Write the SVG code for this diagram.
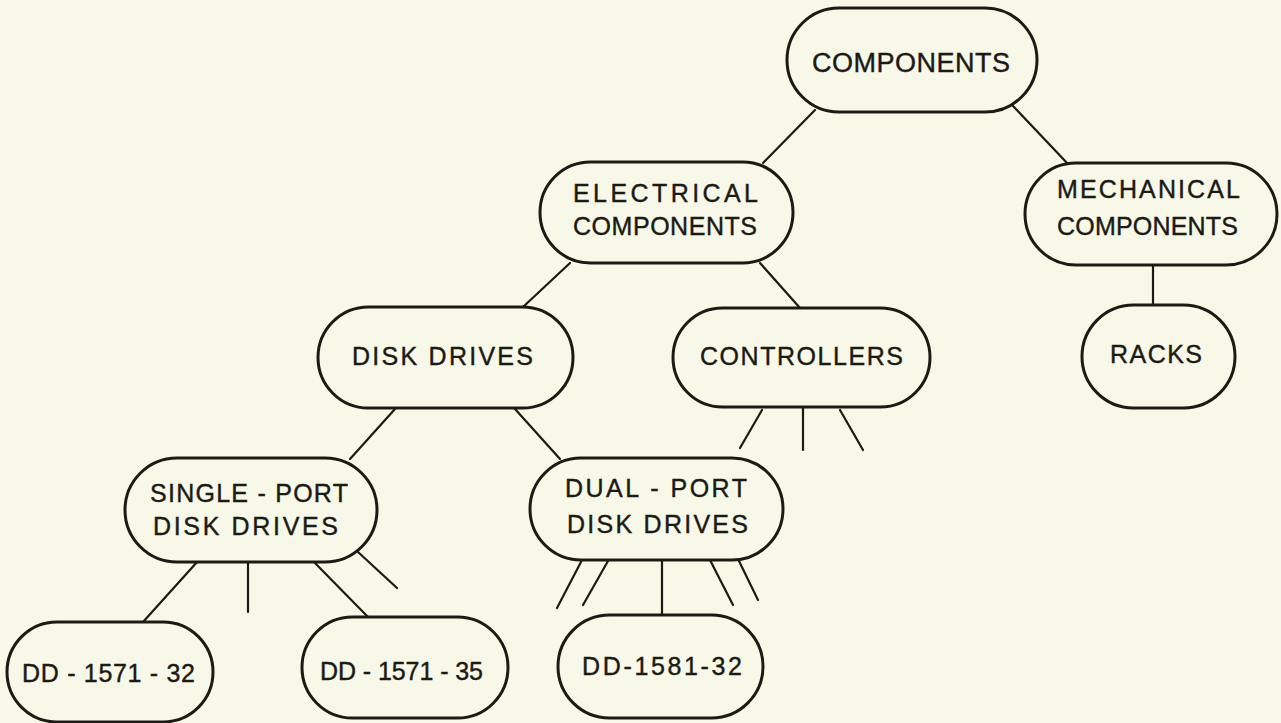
<svg xmlns="http://www.w3.org/2000/svg" width="1281" height="723" viewBox="0 0 1281 723">
<style>
.bg{fill:#f8f8e9}
.node rect{fill:#f8f8e9;stroke:#1b1a14;stroke-width:3}
.node text{font-family:"Liberation Sans",Arial,sans-serif;font-size:25px;fill:#1b1a14;stroke:#1b1a14;stroke-width:0.4}
#connectors line{stroke:#1b1a14;stroke-width:2.2;stroke-linecap:round}
</style>
<rect class="bg" x="0" y="0" width="1281" height="723"/>
<g id="connectors">
<line x1="815" y1="110" x2="763" y2="163"/>
<line x1="1013" y1="106" x2="1068" y2="164"/>
<line x1="1153" y1="265" x2="1153" y2="305"/>
<line x1="570" y1="263" x2="523" y2="307"/>
<line x1="760" y1="263" x2="800" y2="308"/>
<line x1="762" y1="410" x2="740" y2="448"/>
<line x1="803" y1="408" x2="803" y2="450"/>
<line x1="840" y1="410" x2="863" y2="450"/>
<line x1="395" y1="409" x2="350" y2="459"/>
<line x1="515" y1="409" x2="560" y2="459"/>
<line x1="198" y1="561" x2="143" y2="622"/>
<line x1="248" y1="562" x2="248" y2="612"/>
<line x1="313" y1="561" x2="368" y2="617"/>
<line x1="358" y1="552" x2="397" y2="588"/>
<line x1="582" y1="560" x2="557" y2="608"/>
<line x1="608" y1="561" x2="583" y2="605"/>
<line x1="662" y1="560" x2="662" y2="615"/>
<line x1="710" y1="560" x2="733" y2="605"/>
<line x1="738" y1="559" x2="758" y2="600"/>
</g>
<g id="components" class="node">
<rect x="787" y="8" width="250" height="104" rx="52"/>
<text x="812" y="72" textLength="198" lengthAdjust="spacing" style="font-size:27px">COMPONENTS</text>
</g>
<g id="electrical" class="node">
<rect x="540" y="162" width="253" height="101" rx="50.5"/>
<text x="573" y="202" textLength="185" lengthAdjust="spacing">ELECTRICAL</text>
<text x="573" y="235" textLength="184" lengthAdjust="spacing">COMPONENTS</text>
</g>
<g id="mechanical" class="node">
<rect x="1025" y="163" width="252" height="102" rx="51"/>
<text x="1057" y="198" textLength="183" lengthAdjust="spacing">MECHANICAL</text>
<text x="1057" y="235" textLength="181" lengthAdjust="spacing">COMPONENTS</text>
</g>
<g id="racks" class="node">
<rect x="1082" y="305" width="153" height="103" rx="51.5"/>
<text x="1110" y="363" textLength="92" lengthAdjust="spacing">RACKS</text>
</g>
<g id="disk-drives" class="node">
<rect x="318" y="307" width="255" height="101" rx="50.5"/>
<text x="352" y="365" textLength="181" lengthAdjust="spacing">DISK DRIVES</text>
</g>
<g id="controllers" class="node">
<rect x="673" y="308" width="257" height="99" rx="49.5"/>
<text x="700" y="365" textLength="203" lengthAdjust="spacing">CONTROLLERS</text>
</g>
<g id="single-port" class="node">
<rect x="125" y="458" width="252" height="104" rx="52"/>
<text x="150" y="502" textLength="198" lengthAdjust="spacing">SINGLE - PORT</text>
<text x="153" y="535" textLength="185" lengthAdjust="spacing">DISK DRIVES</text>
</g>
<g id="dual-port" class="node">
<rect x="530" y="458" width="253" height="102" rx="51"/>
<text x="565" y="497" textLength="182" lengthAdjust="spacing">DUAL - PORT</text>
<text x="567" y="533" textLength="181" lengthAdjust="spacing">DISK DRIVES</text>
</g>
<g id="dd-1571-32" class="node">
<rect x="7" y="622" width="206" height="100" rx="50"/>
<text x="22" y="682" textLength="173" lengthAdjust="spacing">DD - 1571 - 32</text>
</g>
<g id="dd-1571-35" class="node">
<rect x="302" y="617" width="206" height="101" rx="50.5"/>
<text x="320" y="680" textLength="163" lengthAdjust="spacing">DD - 1571 - 35</text>
</g>
<g id="dd-1581-32" class="node">
<rect x="558" y="615" width="205" height="103" rx="51.5"/>
<text x="582" y="675" textLength="160" lengthAdjust="spacing">DD-1581-32</text>
</g>
</svg>
